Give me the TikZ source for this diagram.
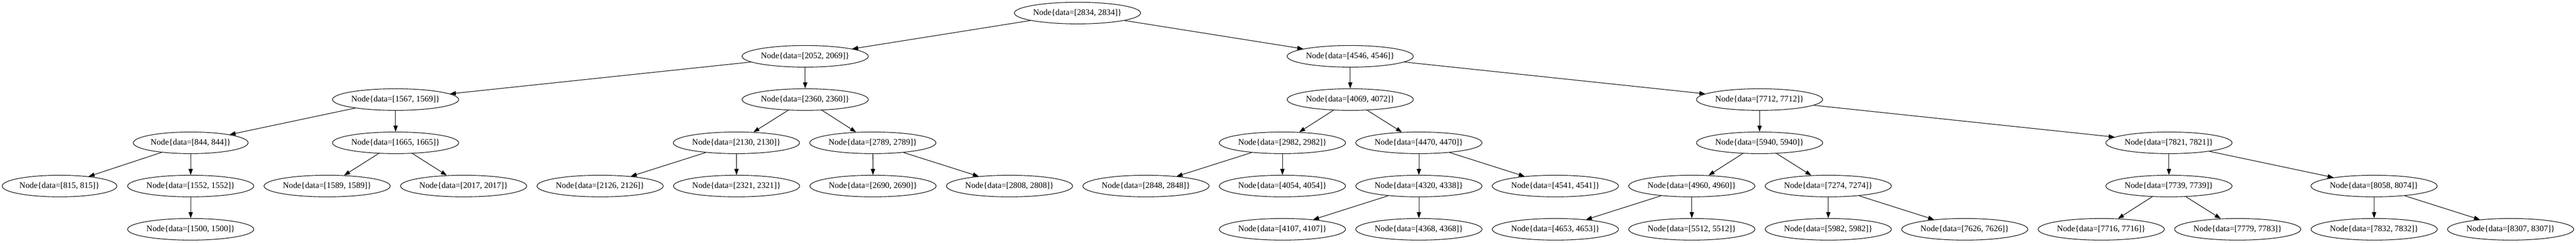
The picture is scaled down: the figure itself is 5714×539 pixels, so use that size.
\documentclass[tikz,border=0pt]{standalone}
\usepackage{fontspec}
\setmainfont{Liberation Serif}
\usetikzlibrary{shapes.geometric,arrows.meta}
\begin{document}
\begin{tikzpicture}[x=0.75pt,y=-0.75pt,
  tn/.style={ellipse,draw,line width=0.9pt,minimum width=210pt,minimum height=36pt,inner sep=0pt,font=\fontsize{14pt}{16pt}\selectfont},
  tns/.style={tn,minimum width=191pt},
  lnk/.style={draw,line width=0.9pt,-{Triangle[length=10pt,width=7pt]}}]
\useasboundingbox (0,0) rectangle (5714,539);
% level 0
\node[tn] (n2834) at (2390,29) {Node\{data=[2834, 2834]\}};
% level 1
\node[tn] (n2052) at (1786,125) {Node\{data=[2052, 2069]\}};
\node[tn] (n4546) at (2995,125) {Node\{data=[4546, 4546]\}};
% level 2
\node[tn] (n1567) at (877.5,221) {Node\{data=[1567, 1569]\}};
\node[tn] (n2360) at (1786,221) {Node\{data=[2360, 2360]\}};
\node[tn] (n4069) at (2995,221) {Node\{data=[4069, 4072]\}};
\node[tn] (n7712) at (3903,221) {Node\{data=[7712, 7712]\}};
% level 3
\node[tns] (n844) at (423,317) {Node\{data=[844, 844]\}};
\node[tn] (n1665) at (877.5,317) {Node\{data=[1665, 1665]\}};
\node[tn] (n2130) at (1633.5,317) {Node\{data=[2130, 2130]\}};
\node[tn] (n2789) at (1936,317) {Node\{data=[2789, 2789]\}};
\node[tn] (n2982) at (2844.6,317) {Node\{data=[2982, 2982]\}};
\node[tn] (n4470) at (3147.3,317) {Node\{data=[4470, 4470]\}};
\node[tn] (n5940) at (3903,317) {Node\{data=[5940, 5940]\}};
\node[tn] (n7821) at (4811,317) {Node\{data=[7821, 7821]\}};
% level 4
\node[tns] (n815) at (132,413) {Node\{data=[815, 815]\}};
\node[tn] (n1552) at (423,413) {Node\{data=[1552, 1552]\}};
\node[tn] (n1589) at (725.7,413) {Node\{data=[1589, 1589]\}};
\node[tn] (n2017) at (1028.4,413) {Node\{data=[2017, 2017]\}};
\node[tn] (n2126) at (1331.1,413) {Node\{data=[2126, 2126]\}};
\node[tn] (n2321) at (1633.8,413) {Node\{data=[2321, 2321]\}};
\node[tn] (n2690) at (1936.5,413) {Node\{data=[2690, 2690]\}};
\node[tn] (n2808) at (2239.2,413) {Node\{data=[2808, 2808]\}};
\node[tn] (n2848) at (2541.9,413) {Node\{data=[2848, 2848]\}};
\node[tn] (n4054) at (2844.6,413) {Node\{data=[4054, 4054]\}};
\node[tn] (n4320) at (3147.3,413) {Node\{data=[4320, 4338]\}};
\node[tn] (n4541) at (3450,413) {Node\{data=[4541, 4541]\}};
\node[tn] (n4960) at (3752.7,413) {Node\{data=[4960, 4960]\}};
\node[tn] (n7274) at (4055.4,413) {Node\{data=[7274, 7274]\}};
\node[tn] (n7739) at (4811,413) {Node\{data=[7739, 7739]\}};
\node[tn] (n8058) at (5266,413) {Node\{data=[8058, 8074]\}};
% level 5
\node[tn] (n1500) at (423,509) {Node\{data=[1500, 1500]\}};
\node[tn] (n4107) at (2844.6,509) {Node\{data=[4107, 4107]\}};
\node[tn] (n4368) at (3147.3,509) {Node\{data=[4368, 4368]\}};
\node[tn] (n4653) at (3450,509) {Node\{data=[4653, 4653]\}};
\node[tn] (n5512) at (3752.7,509) {Node\{data=[5512, 5512]\}};
\node[tn] (n5982) at (4055.4,509) {Node\{data=[5982, 5982]\}};
\node[tn] (n7626) at (4358.1,509) {Node\{data=[7626, 7626]\}};
\node[tn] (n7716) at (4660.8,509) {Node\{data=[7716, 7716]\}};
\node[tn] (n7779) at (4963.5,509) {Node\{data=[7779, 7783]\}};
\node[tn] (n7832) at (5266.2,509) {Node\{data=[7832, 7832]\}};
\node[tn] (n8307) at (5568.9,509) {Node\{data=[8307, 8307]\}};
% edges
\path[lnk] (n2834) -- (n2052);
\path[lnk] (n2834) -- (n4546);
\path[lnk] (n2052) -- (n1567);
\path[lnk] (n2052) -- (n2360);
\path[lnk] (n1567) -- (n844);
\path[lnk] (n1567) -- (n1665);
\path[lnk] (n844) -- (n815);
\path[lnk] (n844) -- (n1552);
\path[lnk] (n1552) -- (n1500);
\path[lnk] (n1665) -- (n1589);
\path[lnk] (n1665) -- (n2017);
\path[lnk] (n2360) -- (n2130);
\path[lnk] (n2360) -- (n2789);
\path[lnk] (n2130) -- (n2126);
\path[lnk] (n2130) -- (n2321);
\path[lnk] (n2789) -- (n2690);
\path[lnk] (n2789) -- (n2808);
\path[lnk] (n4546) -- (n4069);
\path[lnk] (n4546) -- (n7712);
\path[lnk] (n4069) -- (n2982);
\path[lnk] (n4069) -- (n4470);
\path[lnk] (n2982) -- (n2848);
\path[lnk] (n2982) -- (n4054);
\path[lnk] (n4470) -- (n4320);
\path[lnk] (n4470) -- (n4541);
\path[lnk] (n4320) -- (n4107);
\path[lnk] (n4320) -- (n4368);
\path[lnk] (n7712) -- (n5940);
\path[lnk] (n7712) -- (n7821);
\path[lnk] (n5940) -- (n4960);
\path[lnk] (n5940) -- (n7274);
\path[lnk] (n4960) -- (n4653);
\path[lnk] (n4960) -- (n5512);
\path[lnk] (n7274) -- (n5982);
\path[lnk] (n7274) -- (n7626);
\path[lnk] (n7821) -- (n7739);
\path[lnk] (n7821) -- (n8058);
\path[lnk] (n7739) -- (n7716);
\path[lnk] (n7739) -- (n7779);
\path[lnk] (n8058) -- (n7832);
\path[lnk] (n8058) -- (n8307);
\end{tikzpicture}
\end{document}
